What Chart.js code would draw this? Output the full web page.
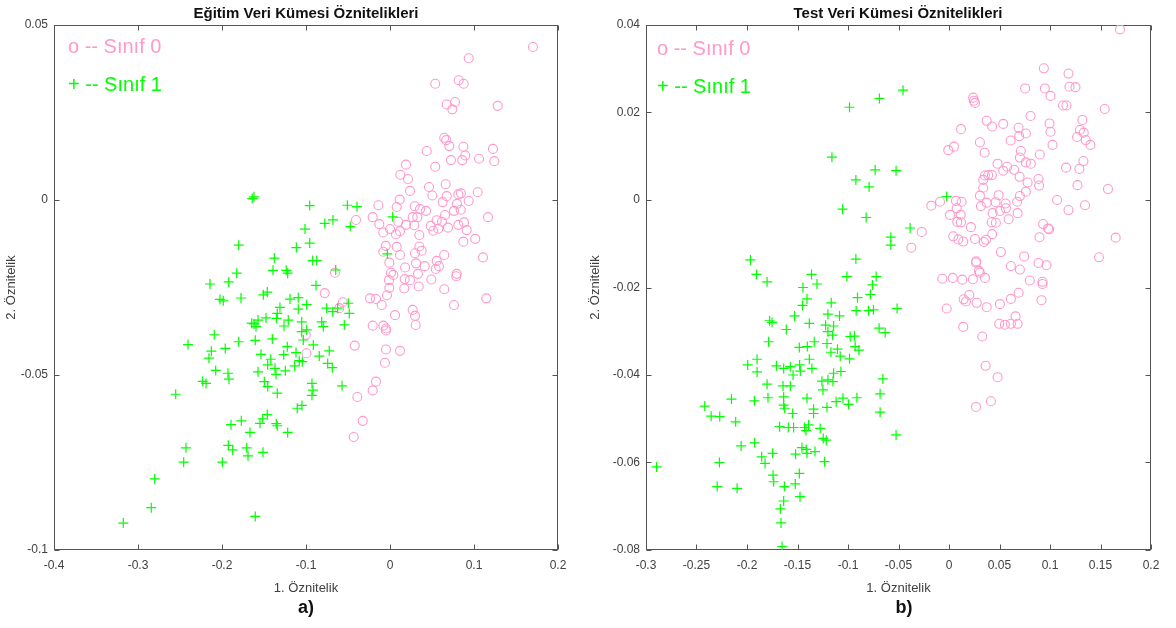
<!DOCTYPE html>
<html lang="tr">
<head>
<meta charset="UTF-8">
<title>Eğitim ve Test Veri Kümesi Öznitelikleri</title>
<script src="https://cdn.jsdelivr.net/npm/chart.js"></script>
<style>
  body { margin: 0; background: #fff; font-family: "Liberation Sans", Arial, sans-serif; }
  #wrap { position: relative; width: 1176px; height: 628px; overflow: hidden; }
  .panel { position: absolute; top: 0; }
  .title { position: absolute; top: 5px; font-weight: bold; font-size: 15px; line-height: 1; color: #111; transform: translateX(-50%); white-space: nowrap; }
  .legend { position: absolute; font-size: 20px; line-height: 1; white-space: nowrap; }
  .pink { color: #ff99cc; }
  .green { color: #00ff00; }
  .sub { position: absolute; top: 598px; font-weight: bold; font-size: 18px; line-height: 1; color: #111; transform: translateX(-50%); }
</style>
</head>
<body>
<div id="wrap">
  <canvas id="trainChart" class="panel" width="585" height="628" style="left:0px"></canvas>
  <canvas id="testChart" class="panel" width="590" height="628" style="left:586px"></canvas>

  <div class="title" style="left:306px">Eğitim Veri Kümesi Öznitelikleri</div>
  <div class="title" style="left:898px">Test Veri Kümesi Öznitelikleri</div>

  <div class="legend pink" style="left:68px; top:36px">o -- Sınıf 0</div>
  <div class="legend green" style="left:68px; top:74px">+ -- Sınıf 1</div>
  <div class="legend pink" style="left:657px; top:38px">o -- Sınıf 0</div>
  <div class="legend green" style="left:657px; top:76px">+ -- Sınıf 1</div>

  <div class="sub" style="left:306px">a)</div>
  <div class="sub" style="left:904px">b)</div>
</div>

<script>
// ---- tick values ----
const trainXTicks = [-0.4, -0.3, -0.2, -0.1, 0, 0.1, 0.2];
const trainYTicks = [-0.1, -0.05, 0, 0.05];
const testXTicks = [-0.3, -0.25, -0.2, -0.15, -0.1, -0.05, 0, 0.05, 0.1, 0.15, 0.2];
const testYTicks = [-0.08, -0.06, -0.04, -0.02, 0, 0.02, 0.04];

// ---- training set (a) ----
const trainClass0X = [
  0.1702, 0.0937, 0.0539, 0.0818, 0.0877, 0.0675, 0.0774, 0.0742, 0.1282, 0.0646,
  0.067, 0.0706, 0.0437, 0.0873, 0.1226, 0.0896, 0.0861, 0.0726, 0.106, 0.1242,
  0.0539, 0.019, 0.0123, 0.0214, 0.0464, 0.0663, 0.0238, 0.0504, 0.0675, 0.0813,
  0.0845, 0.1044, 0.0115, 0.0627, 0.0798, 0.0937, -0.0139, 0.008, 0.0294, 0.0357,
  0.0429, 0.0762, 0.0842, 0.1167, -0.0206, -0.0405, 0.027, 0.0325, 0.0655, 0.0556,
  0.0099, -0.0127, 0.019, 0.0289, 0.0485, 0.0619, 0.069, 0.0813, 0.0881, 0.0913,
  -0.008, 0, 0.0119, 0.0071, 0.0349, 0.0515, 0.0575,
  0.0873, 0.1015, 0.0646, 0.1107, -0.0051, 0.008, -0.008, 0.0119, 0.0298, 0.0349,
  0.0377, -0.0008, 0.0179, 0.031, 0.0413, 0.0556, 0.0583, 0.0544, 0.0794, 0.0789,
  0.0012, 0.0039, -0.0655, 0.0333, -0.0012, 0.0175, 0.0238, 0.0492, -0.0008, 0.017,
  0.0342, 0.0646, -0.0036, 0.1146, -0.0238, -0.0167, -0.0099, 0.0762, -0.0563, -0.0604,
  0.027, 0.006, 0.0298, -0.0206, -0.008, -0.0048, -0.0048, 0.0306, -0.042, -0.0048,
  0.0119, -0.006, -0.0167, -0.0206, -0.0389, -0.0325, -0.0432,
  -0.1004, -0.0994, -0.0777
];
const trainClass0Y = [
  0.0437, 0.0405, 0.0332, 0.0342, 0.0332, 0.0273, 0.028, 0.0259, 0.0269, 0.0178,
  0.0171, 0.0154, 0.014, 0.0152, 0.0146, 0.0127, 0.0114, 0.0114, 0.0118, 0.0111,
  0.0095, 0.0101, 0.0072, 0.006, 0.0037, 0.0045, 0.0026, 0.0013, 0.0011, 0.0016,
  0.0019, 0.0022, 0.0001, -0.0006, -0.0011, -0.0003, -0.0015, -0.002, -0.0018, -0.0026,
  -0.0031, -0.0031, -0.0028, -0.0049, -0.0049, -0.0057, -0.0049, -0.0049, -0.0043, -0.0058,
  -0.0062, -0.0069, -0.0071, -0.0072, -0.0074, -0.0062, -0.0079, -0.0071, -0.0064, -0.0086,
  -0.0093, -0.0083, -0.0089, -0.0098, -0.01, -0.0088, -0.0082,
  -0.0119, -0.0111, -0.0157, -0.0164, -0.0131, -0.0134, -0.0148, -0.0157, -0.0152, -0.0133,
  -0.0145, -0.0179, -0.0193, -0.0181, -0.0189, -0.0174, -0.0189, -0.0197, -0.0211, -0.0218,
  -0.0208, -0.0214, -0.0208, -0.0211, -0.0229, -0.0226, -0.0229, -0.0227, -0.0251, -0.0253,
  -0.0247, -0.0255, -0.0272, -0.0281, -0.0281, -0.0283, -0.03, -0.03, -0.0292, -0.0309,
  -0.0314, -0.0329, -0.0331, -0.0359, -0.0359, -0.0367, -0.0373, -0.0357, -0.0416, -0.0427,
  -0.0431, -0.0465, -0.0519, -0.0544, -0.0563, -0.0631, -0.0677,
  -0.0385, -0.0438, -0.0266
];
const trainClass1X = [
  -0.162, -0.164, -0.0956, -0.0508, -0.0393, -0.0679, -0.0777, -0.0473, -0.1012, -0.1801,
  -0.1115, -0.0956, -0.1377, -0.092, -0.0873, -0.1393, -0.1235, -0.1218, -0.1825, -0.0646,
  -0.192, -0.2143, -0.0881, -0.1461, -0.1508, -0.2024, -0.1985, -0.1774, -0.119, -0.1092,
  -0.0992, -0.1092, -0.131, -0.1342, -0.1349, -0.1476, -0.1211, -0.1262, -0.1646, -0.1619,
  -0.1595, -0.1571, -0.1051, -0.0754, -0.0682, -0.0623, -0.0496, -0.0485, -0.0813, -0.0794,
  -0.0544, -0.1051, -0.0992, 0.0032, -0.0032,
  -0.2092, -0.2405, -0.2127, -0.2155, -0.1961, -0.1801, -0.1604, -0.1401, -0.1223, -0.1119,
  -0.1265, -0.1536, -0.142, -0.1032, -0.0913, -0.0842, -0.0723, -0.108, -0.1044, -0.1135,
  -0.1246, -0.1369, -0.1456, -0.1357, -0.1571, -0.2075, -0.1929, -0.1917, -0.223, -0.219,
  -0.2551, -0.1496, -0.1456, -0.1342, -0.0742, -0.0687, -0.0929, -0.0917, -0.0929, -0.0571,
  -0.1104, -0.1048, -0.1461, -0.1515, -0.1548, -0.1354, -0.1342, -0.177, -0.1893, -0.1667,
  -0.1218, -0.1925, -0.1873, -0.1706, -0.169, -0.1512, -0.2429, -0.2456, -0.1996, -0.2801,
  -0.2842, -0.3175, -0.1604
];
const trainClass1Y = [
  0.0009, 0.0004, -0.0016, -0.0015, -0.0019, -0.0057, -0.0067, -0.0076, -0.0083, -0.0129,
  -0.0136, -0.0123, -0.0166, -0.0173, -0.0173, -0.0201, -0.0201, -0.0209, -0.0209, -0.02,
  -0.0234, -0.024, -0.0244, -0.0263, -0.0271, -0.0284, -0.0288, -0.028, -0.0283, -0.0279,
  -0.0299, -0.0312, -0.0307, -0.0324, -0.0338, -0.0337, -0.0343, -0.036, -0.0352, -0.0354,
  -0.0362, -0.0343, -0.0348, -0.0309, -0.0319, -0.0309, -0.0295, -0.0324, -0.0348, -0.0362,
  -0.0357, -0.0376, -0.0371, -0.0048, -0.0154,
  -0.0385, -0.0413, -0.0432, -0.0452, -0.0424, -0.0405, -0.0401, -0.0397, -0.0419, -0.0436,
  -0.0442, -0.0441, -0.0455, -0.04, -0.0414, -0.0446, -0.0431, -0.0459, -0.0462, -0.0474,
  -0.0488, -0.0481, -0.0471, -0.0498, -0.0491, -0.0487, -0.0495, -0.0512, -0.0518, -0.0524,
  -0.0555, -0.0519, -0.0533, -0.0552, -0.0467, -0.0479, -0.0524, -0.0543, -0.0558, -0.0531,
  -0.0595, -0.0587, -0.0613, -0.0625, -0.0638, -0.0639, -0.0645, -0.0631, -0.0642, -0.0664,
  -0.0664, -0.0701, -0.0714, -0.0708, -0.0731, -0.0721, -0.0708, -0.0749, -0.0749, -0.0797,
  -0.0879, -0.0923, -0.0904
];

// ---- test set (b) ----
const testClass0X = [
  0.1693, 0.0939, 0.1183, 0.0754, 0.0949, 0.1193, 0.1252, 0.1005, 0.024, 0.0247,
  0.0257, 0.1129, 0.1163, 0.1542, 0.0807, 0.0373, 0.0537, 0.0428, 0.0995, 0.1321,
  0.0119, 0.0689, 0.0761, 0.0695, 0.1005, 0.1297, 0.1334, 0.1268, 0.1354, 0.14,
  0.0306, 0.061, 0.1025, -0.0007, 0.0049, 0.0353, 0.0711, 0.0702, 0.0899, 0.0761,
  0.081, 0.0481, 0.0576, 0.0537, 0.0645, 0.1159, 0.1331, 0.1291, 0.0356, 0.0388,
  0.0425, 0.0339, 0.0699, 0.0886, 0.0778, 0.0892, 0.1272, 0.1574, 0.0339, 0.0306,
  0.0491, 0.0702, 0.0761, 0.107, -0.0089, 0.0069, 0.0125, 0.0373, 0.0461, 0.056,
  0.0675,
  -0.0175, 0.0076, 0.0116, 0.001, 0.0082, 0.0119, 0.0217, 0.0316, 0.0432, 0.0504,
  0.0563, 0.059, 0.0679, 0.0422, 0.0464, 0.0428, 0.1183, 0.1347, 0.0932, 0.0981,
  0.0991, 0.0896, 0.165, -0.027, -0.0373, 0.0042, 0.0092, 0.0141, 0.0257, 0.0346,
  0.0366, 0.0514, 0.0744, 0.0613, 0.0702, 0.0886, 0.0965, 0.1485, 0.027, 0.0267,
  0.0296, 0.0306, 0.0356, -0.0066, 0.0037, 0.0131, 0.0237, 0.08, 0.0926, 0.0926,
  0.0201, 0.0145, 0.0168, 0.0274, 0.0373, 0.0504, 0.0613, 0.0689, 0.0916, -0.0023,
  0.0659, 0.0497, 0.0553, 0.0613, 0.0679, 0.0141, 0.0329, 0.0363, 0.0481, 0.0415,
  0.0267
];
const testClass0Y = [
  0.039, 0.0301, 0.0289, 0.0255, 0.0255, 0.0259, 0.0258, 0.0238, 0.0234, 0.0227,
  0.0222, 0.0216, 0.0216, 0.0208, 0.0192, 0.0181, 0.0174, 0.0168, 0.0175, 0.0183,
  0.0162, 0.0165, 0.0152, 0.0146, 0.0156, 0.016, 0.0154, 0.0144, 0.0137, 0.0126,
  0.0132, 0.0136, 0.0126, 0.0114, 0.0122, 0.0108, 0.0112, 0.0097, 0.0104, 0.0086,
  0.0083, 0.0083, 0.0076, 0.0067, 0.0069, 0.0074, 0.0089, 0.0071, 0.0056, 0.0057,
  0.0057, 0.0046, 0.0053, 0.0048, 0.004, 0.0033, 0.0034, 0.0025, 0.0028, 0.001,
  0.0011, 0.0009, 0.0019, 0, -0.0004, -0.0002, -0.0004, -0.0006, -0.0005, -0.0008,
  -0.0004,
  -0.0013, -0.0019, -0.0034, -0.0034, -0.005, -0.0051, -0.0062, -0.0014, -0.003, -0.0025,
  -0.0019, -0.0044, -0.003, -0.0051, -0.0052, -0.0078, -0.0023, -0.0012, -0.0055, -0.0065,
  -0.0067, -0.0085, -0.0086, -0.0073, -0.0109, -0.0083, -0.009, -0.0095, -0.0089, -0.0096,
  -0.0091, -0.0119, -0.0129, -0.0151, -0.0159, -0.0144, -0.0149, -0.0131, -0.014, -0.0143,
  -0.0162, -0.0166, -0.0178, -0.018, -0.0178, -0.0182, -0.0181, -0.0184, -0.0187, -0.0192,
  -0.0217, -0.0227, -0.0232, -0.0235, -0.0245, -0.0238, -0.0226, -0.0212, -0.0229, -0.0248,
  -0.0266, -0.0283, -0.0285, -0.0283, -0.0283, -0.029, -0.0312, -0.0379, -0.0405, -0.046,
  -0.0473
];
const testClass1X = [
  -0.0689, -0.0985, -0.0455, -0.1159, -0.0731, -0.0524, -0.0922, -0.0791, -0.1054, -0.082,
  -0.0576, -0.0576, -0.0385, -0.0023, -0.1966, -0.0922, -0.1907, -0.1801, -0.1361, -0.1307,
  -0.1011, -0.0721, -0.1446, -0.0758, -0.0778, -0.0906, -0.1406, -0.145, -0.1166, -0.0514,
  -0.1529, -0.1776, -0.1752, -0.1199, -0.1084, -0.0919, -0.0797, -0.0748, -0.1383, -0.1222,
  -0.1143, -0.1199, -0.1153, -0.1611, -0.0692, -0.0632, -0.1786, -0.1482, -0.1403, -0.1334,
  -0.1208, -0.1104, -0.0978, -0.0936, -0.0929, -0.0892, -0.1169, -0.1077, -0.0985, -0.1383,
  -0.1357, -0.19, -0.1993, -0.19, -0.1709, -0.1637, -0.1571, -0.1544, -0.1479, -0.1472,
  -0.1258, -0.1199, -0.1149, -0.1143, -0.107, -0.1248, -0.1801, -0.1643, -0.1571, -0.1637,
  -0.1792, -0.2154, -0.1927, -0.1406, -0.1117, -0.105, -0.0995, -0.0912, -0.1208, -0.1341,
  -0.1341, -0.1548, -0.1637, -0.1627, -0.2418, -0.2355, -0.227, -0.2112, -0.1677, -0.1591,
  -0.1539, -0.143, -0.139, -0.1416, -0.1275, -0.1245, -0.1215, -0.0655, -0.0682, -0.0682,
  -0.0524, -0.2058, -0.1924, -0.1855, -0.1821, -0.1746, -0.1456, -0.1406, -0.1413, -0.1327,
  -0.1519, -0.1232, -0.2895, -0.2273, -0.1742, -0.1736, -0.1482, -0.1522, -0.163, -0.2295,
  -0.2098, -0.1475, -0.1637, -0.167, -0.1663, -0.1653
];
const testClass1Y = [
  0.0232, 0.0212, 0.0251, 0.0098, 0.0069, 0.0067, 0.0046, 0.003, -0.0021, -0.004,
  -0.0085, -0.0103, -0.0064, 0.0008, -0.0137, -0.0135, -0.017, -0.0187, -0.017, -0.0192,
  -0.0175, -0.0175, -0.02, -0.0194, -0.0216, -0.0223, -0.0226, -0.0241, -0.0235, -0.0248,
  -0.0265, -0.0276, -0.028, -0.0261, -0.0265, -0.0253, -0.0253, -0.0251, -0.0282, -0.0286,
  -0.0288, -0.0301, -0.0309, -0.0296, -0.0293, -0.0303, -0.0324, -0.0337, -0.0335, -0.0324,
  -0.0328, -0.0341, -0.0312, -0.0311, -0.0335, -0.0343, -0.0348, -0.0357, -0.0363, -0.0364,
  -0.0385, -0.0364, -0.0377, -0.0393, -0.0379, -0.0385, -0.0381, -0.04, -0.0377, -0.0391,
  -0.0414, -0.0411, -0.0415, -0.0396, -0.0392, -0.0434, -0.0421, -0.0425, -0.0425, -0.045,
  -0.0452, -0.0455, -0.0459, -0.0453, -0.0461, -0.0453, -0.0467, -0.0452, -0.0474, -0.0478,
  -0.0488, -0.0488, -0.0469, -0.0476, -0.0471, -0.0494, -0.0495, -0.0507, -0.0518, -0.052,
  -0.052, -0.052, -0.0514, -0.0527, -0.0522, -0.0545, -0.0549, -0.0409, -0.0443, -0.0485,
  -0.0537, -0.0562, -0.0555, -0.0587, -0.0602, -0.0579, -0.0566, -0.0579, -0.057, -0.0575,
  -0.0581, -0.0598, -0.061, -0.06, -0.0629, -0.0644, -0.0625, -0.0649, -0.0655, -0.0655,
  -0.0659, -0.0678, -0.0688, -0.0706, -0.0738, -0.0792
];

const FONT = '"Liberation Sans", Arial, sans-serif';
const PINK = '#ff99cc';
const GREEN = '#00ff00';

function toPoints(xs, ys) {
  return xs.map((x, i) => ({ x: x, y: ys[i] }));
}

// matlab style box with inward ticks on all four sides
const boxPlugin = {
  id: 'matlabBox',
  beforeDatasetsDraw(chart) {
    const { ctx, chartArea: a, scales } = chart;
    const L = Math.round(a.left) + 0.5, R = Math.round(a.right) - 0.5;
    const T = Math.round(a.top) + 0.5, B = Math.round(a.bottom) - 0.5;
    const len = 5;
    ctx.save();
    ctx.strokeStyle = '#555';
    ctx.lineWidth = 1;
    ctx.strokeRect(L, T, R - L, B - T);
    ctx.beginPath();
    scales.x.ticks.forEach(t => {
      const px = Math.round(scales.x.getPixelForValue(t.value)) + 0.5;
      ctx.moveTo(px, B); ctx.lineTo(px, B - len);
      ctx.moveTo(px, T); ctx.lineTo(px, T + len);
    });
    scales.y.ticks.forEach(t => {
      const py = Math.round(scales.y.getPixelForValue(t.value)) + 0.5;
      ctx.moveTo(L, py); ctx.lineTo(L + len, py);
      ctx.moveTo(R, py); ctx.lineTo(R - len, py);
    });
    ctx.stroke();
    ctx.restore();
  }
};

function makeChart(id, c) {
  return new Chart(document.getElementById(id), {
    type: 'scatter',
    data: {
      datasets: [
        {
          label: 'Sınıf 1',
          data: toPoints(c.x1, c.y1),
          pointStyle: 'cross',
          pointRadius: 5,
          borderColor: GREEN,
          backgroundColor: GREEN,
          pointBorderWidth: 1.2
        },
        {
          label: 'Sınıf 0',
          data: toPoints(c.x0, c.y0),
          pointStyle: 'circle',
          pointRadius: 4.5,
          borderColor: PINK,
          backgroundColor: 'rgba(0,0,0,0)',
          pointBorderWidth: 1.1
        }
      ]
    },
    options: {
      responsive: false,
      devicePixelRatio: 1,
      animation: false,
      events: [],
      layout: { padding: { top: 25, right: c.padRight, bottom: 0, left: 0 } },
      plugins: { legend: { display: false }, tooltip: { enabled: false } },
      scales: {
        x: {
          type: 'linear',
          min: c.xTicks[0],
          max: c.xTicks[c.xTicks.length - 1],
          afterBuildTicks: s => { s.ticks = c.xTicks.map(v => ({ value: v })); },
          afterFit: s => { s.height = 78; },
          grid: { display: false, drawTicks: false },
          border: { display: false },
          ticks: {
            autoSkip: false, maxRotation: 0, padding: 8, color: '#404040',
            font: { family: FONT, size: 12 },
            callback: v => String(v)
          },
          title: {
            display: true, text: '1. Öznitelik', color: '#404040',
            font: { family: FONT, size: 13 },
            padding: { top: 0, bottom: 32 }
          }
        },
        y: {
          type: 'linear',
          min: c.yTicks[0],
          max: c.yTicks[c.yTicks.length - 1],
          afterBuildTicks: s => { s.ticks = c.yTicks.map(v => ({ value: v })); },
          afterFit: s => { s.width = c.yWidth; },
          grid: { display: false, drawTicks: false },
          border: { display: false },
          ticks: {
            autoSkip: false, padding: 6, color: '#404040',
            font: { family: FONT, size: 12 },
            callback: v => String(v)
          },
          title: {
            display: true, text: '2. Öznitelik', color: '#404040',
            font: { family: FONT, size: 13 },
            padding: { top: c.yTitlePad, bottom: 0 }
          }
        }
      }
    },
    plugins: [boxPlugin]
  });
}

makeChart('trainChart', {
  x0: trainClass0X, y0: trainClass0Y, x1: trainClass1X, y1: trainClass1Y,
  xTicks: trainXTicks, yTicks: trainYTicks,
  yWidth: 54, padRight: 27, yTitlePad: 4
});

makeChart('testChart', {
  x0: testClass0X, y0: testClass0Y, x1: testClass1X, y1: testClass1Y,
  xTicks: testXTicks, yTicks: testYTicks,
  yWidth: 60, padRight: 25, yTitlePad: 2
});
</script>
</body>
</html>
